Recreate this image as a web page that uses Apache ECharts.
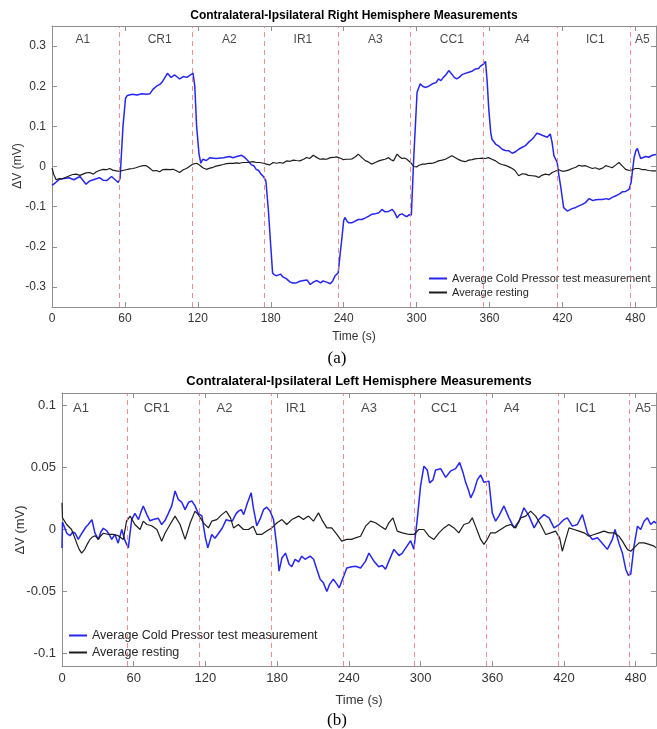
<!DOCTYPE html>
<html>
<head>
<meta charset="utf-8">
<script src="https://cdn.jsdelivr.net/npm/echarts@6/dist/echarts.min.js"></script>
<style>
html,body{margin:0;padding:0;background:#fff;}
#chart{width:657px;height:729px;}
</style>
</head>
<body>
<div id="chart"></div>
<script>
// ---------- DATA ----------
var seriesNames = ['Average Cold Pressor test measurement', 'Average resting'];
var phaseNames = ['A1','CR1','A2','IR1','A3','CC1','A4','IC1','A5'];
var phaseLabelTop = [25.4, 88.6, 146, 206.5, 266, 329, 387, 447, 485.8];
var phaseLabelBot = [15.9, 79.2, 135.9, 195.6, 256.8, 319.6, 376.2, 438.2, 486.2];
var phaseBoundsTop = [55, 115, 175, 235.5, 295, 355, 415.5, 476];
var phaseBoundsBot = [55, 115, 175, 235, 295, 355, 415, 475];
var xTicks = [0, 60, 120, 180, 240, 300, 360, 420, 480];
var yTicksTop = [-0.3, -0.2, -0.1, 0, 0.1, 0.2, 0.3];
var yTicksBot = [-0.1, -0.05, 0, 0.05, 0.1];

// Right hemisphere (a): [time s, dV mV]
var topCpt = [[0,-0.047],[3,-0.040],[6,-0.032],[10,-0.030],[14,-0.028],[18,-0.033],[23,-0.025],[28,-0.044],[31,-0.036],[34,-0.033],[39,-0.028],[42,-0.034],[45,-0.035],[49,-0.025],[52,-0.033],[54.5,-0.040],[56,-0.030],[58.4,0.10],[60.5,0.170],[62,0.177],[66,0.180],[70,0.178],[74,0.181],[78,0.180],[80.5,0.181],[83,0.192],[86,0.200],[89,0.205],[91,0.212],[93,0.222],[95,0.232],[98,0.222],[101,0.228],[103,0.223],[105,0.218],[108,0.224],[111,0.222],[114,0.228],[116,0.233],[117.5,0.20],[119,0.10],[121,0.03],[122.5,0.008],[124,0.018],[127,0.015],[130,0.022],[135,0.020],[141,0.022],[146,0.025],[149,0.022],[152,0.025],[156,0.028],[158,0.024],[160,0.018],[162,0.012],[164,0.004],[166,0.002],[168,-0.007],[170,-0.010],[172,-0.019],[174,-0.025],[176,-0.036],[178,-0.107],[180,-0.198],[181.5,-0.265],[183,-0.270],[185,-0.272],[188,-0.268],[190,-0.275],[193,-0.280],[196,-0.288],[198,-0.290],[201,-0.290],[204,-0.286],[207,-0.284],[210,-0.283],[211,-0.280],[212.5,-0.294],[215,-0.288],[218,-0.284],[221,-0.290],[223,-0.285],[226,-0.288],[229,-0.292],[231,-0.285],[233,-0.272],[235.5,-0.265],[237,-0.22],[238.5,-0.18],[240,-0.135],[241,-0.127],[242.5,-0.135],[244,-0.14],[247,-0.14],[252,-0.132],[255,-0.132],[258,-0.128],[261,-0.123],[263,-0.119],[266,-0.118],[269,-0.115],[271.5,-0.107],[274,-0.113],[277,-0.112],[280,-0.107],[282,-0.115],[284,-0.128],[286,-0.120],[288,-0.118],[290,-0.122],[292,-0.125],[294,-0.120],[295.7,-0.121],[297.6,0.018],[300.4,0.185],[303,0.206],[305,0.200],[307,0.197],[310,0.200],[313,0.206],[316,0.209],[318,0.218],[320,0.214],[322,0.222],[324,0.228],[326.5,0.239],[329,0.230],[331,0.222],[333,0.218],[335,0.222],[337.5,0.229],[340,0.232],[343,0.235],[346,0.238],[348.5,0.243],[351,0.244],[352.6,0.250],[355,0.255],[356.7,0.262],[358,0.215],[359.4,0.143],[361,0.085],[362,0.068],[365,0.056],[368,0.050],[370.4,0.043],[373,0.040],[376,0.039],[378.7,0.033],[381,0.036],[384,0.043],[387,0.048],[389.6,0.052],[392,0.060],[395,0.068],[397,0.075],[399,0.083],[401,0.081],[403.4,0.078],[405,0.075],[407.5,0.073],[410,0.081],[411.5,0.060],[413,0.027],[415.7,0.010],[417,-0.020],[418.5,-0.048],[421,-0.1025],[424,-0.111],[426,-0.108],[428,-0.105],[431,-0.102],[433.6,-0.098],[436,-0.095],[439,-0.090],[442,-0.080],[445,-0.085],[447.3,-0.083],[450,-0.082],[453,-0.082],[456,-0.080],[458.3,-0.082],[461,-0.077],[464,-0.073],[467,-0.068],[469.3,-0.063],[472,-0.062],[474.8,-0.057],[476.5,-0.040],[477.5,-0.015],[479,0.0225],[480.5,0.040],[481.7,0.045],[483,0.032],[484.4,0.020],[486,0.024],[488.5,0.025],[491,0.023],[494,0.028],[497,0.030]];
var topRest = [[0,-0.004],[1.5,-0.020],[3.4,-0.033],[6,-0.030],[9,-0.030],[12,-0.026],[14.4,-0.023],[17,-0.020],[20,-0.019],[23,-0.022],[25.4,-0.019],[28,-0.016],[31,-0.015],[34,-0.019],[36.5,-0.013],[39,-0.010],[42,-0.007],[45,-0.008],[47.4,-0.005],[50,-0.009],[51.5,-0.007],[53,-0.011],[55.6,-0.012],[58,-0.010],[61,-0.008],[64,-0.006],[66.6,-0.005],[69,-0.003],[72,0],[75,0.002],[77.6,0.002],[80,-0.003],[83,-0.011],[86,-0.010],[88.6,-0.013],[91,-0.008],[94,-0.007],[97,-0.008],[99.6,-0.007],[102,-0.010],[105,-0.015],[108,-0.008],[110.6,-0.005],[113,0],[116,0.006],[119,0.008],[121.6,0.003],[124,-0.003],[127,-0.007],[130,-0.004],[132.5,-0.002],[135,0.001],[138,0.003],[141,0.005],[143.5,0.007],[146,0.008],[149,0.008],[152,0.009],[154.5,0.008],[157,0.010],[160,0.010],[163,0.011],[165.5,0.012],[168,0.010],[171,0.010],[174,0.008],[176.5,0.006],[179,0.004],[182,0.010],[185,0.008],[187.5,0.010],[190,0.008],[193,0.014],[196,0.013],[198.5,0.016],[201,0.015],[204,0.014],[207,0.018],[209.5,0.0225],[212,0.020],[215,0.028],[217,0.024],[220.5,0.018],[223,0.019],[226,0.018],[229,0.022],[231.5,0.0225],[234,0.024],[235.6,0.027],[238,0.020],[239.7,0.017],[242,0.018],[245,0.018],[247,0.019],[250,0.025],[252,0.031],[255,0.022],[258,0.014],[260,0.012],[263,0.006],[266,0.010],[269,0.014],[271,0.016],[274,0.018],[277,0.022],[279,0.017],[281,0.014],[284,0.031],[286,0.024],[288,0.020],[290,0.021],[292,0.018],[295,0.010],[297.6,0],[300,-0.001],[302,0.003],[305,0.006],[307,0.006],[310,0.008],[313,0.008],[316,0.011],[318,0.014],[321,0.016],[323.7,0.018],[326,0.022],[329,0.027],[332,0.022],[334.7,0.017],[337,0.014],[340,0.012],[343,0.016],[345.7,0.017],[348,0.019],[351,0.020],[354,0.021],[356.7,0.020],[359,0.022],[362,0.018],[365,0.014],[367.7,0.008],[370,0.005],[373,0.003],[376,-0.001],[378.7,-0.005],[381,-0.010],[384,-0.023],[387,-0.018],[389.6,-0.019],[392,-0.022],[395,-0.023],[398,-0.024],[400.6,-0.0275],[403,-0.022],[406,-0.019],[409,-0.021],[411.6,-0.015],[414,-0.012],[417,-0.008],[420,-0.012],[422.6,-0.011],[425,-0.009],[428,-0.005],[431,-0.002],[433.6,0.003],[436,0.001],[439,0.002],[442,-0.002],[444.6,-0.005],[447,-0.003],[450,-0.007],[453,-0.004],[455.6,0.002],[458,0.000],[461,-0.003],[464,0.004],[466.5,0.010],[469,0.002],[472,-0.007],[475,-0.010],[477.5,-0.008],[480,-0.005],[483,-0.005],[486,-0.008],[488.5,-0.008],[491,-0.010],[494,-0.011],[497,-0.011]];

// Left hemisphere (b): [time s, dV mV]
var botCpt = [[0,-0.015],[0.4,0.006],[1.5,0.007],[4,-0.003],[6.7,-0.005],[9,-0.002],[11,-0.003],[13.6,-0.008],[16,-0.004],[18,-0.001],[20,0.002],[22,0.004],[25,0.008],[27.6,-0.003],[30.4,-0.008],[32.5,-0.002],[34.6,0.001],[37.4,-0.001],[40,-0.005],[41.6,-0.008],[44.3,-0.004],[47,-0.011],[50,0],[52.7,-0.009],[55.5,-0.0148],[58.3,0.008],[61,0.013],[64,0.008],[66,0.014],[68,0.019],[71,0.012],[73.6,0.007],[76.4,0.008],[80.6,0.009],[83.4,0.004],[86,0.007],[89,0.013],[91.8,0.019],[94.6,0.031],[97.4,0.024],[100.2,0.022],[103,0.016],[106,0.022],[108.6,0.023],[111.3,0.019],[114,0.013],[117,0.011],[120,-0.0067],[122,-0.0148],[125.3,-0.004],[128,-0.007],[131,-0.003],[134,0.001],[137.4,0.008],[140,0.007],[142.6,0.007],[145.8,0.013],[148,0.015],[150,0.016],[152,0.012],[155,0.021],[158.3,0.0296],[160,0.018],[163,0.003],[166,0.009],[168.6,0.016],[171.3,0.018],[174,0.015],[177,0.008],[180,-0.016],[181.6,-0.0336],[184,-0.023],[187,-0.019],[190,-0.028],[192.3,-0.030],[195,-0.024],[198,-0.026],[200.6,-0.0215],[203.4,-0.024],[207.6,-0.0215],[210.5,-0.024],[213.2,-0.032],[216,-0.040],[218.7,-0.043],[221.6,-0.050],[224,-0.044],[227,-0.040],[230,-0.044],[232,-0.047],[235.5,-0.038],[238.3,-0.031],[242.4,-0.030],[245.6,-0.0296],[249.8,-0.031],[254,-0.0255],[256.8,-0.019],[261,-0.0255],[265,-0.030],[268,-0.029],[270.7,-0.032],[273.5,-0.0255],[277.7,-0.016],[282,-0.021],[284.7,-0.019],[288.9,-0.013],[291.7,-0.009],[294.4,-0.016],[297.2,0.008],[300,0.035],[302.8,0.051],[305.6,0.048],[307.6,0.0376],[310.4,0.040],[312.6,0.048],[316.8,0.049],[321,0.042],[325,0.047],[329.3,0.049],[332.7,0.054],[335.5,0.046],[337.7,0.038],[340,0.032],[342,0.0255],[344.7,0.031],[347.5,0.040],[350.3,0.044],[353,0.038],[357.2,0.039],[360,0.0134],[362.8,0.0067],[365.6,0.011],[369.8,0.019],[374,0.0094],[378.2,0.0013],[382.4,0.0067],[386.5,0.0175],[390.7,0.011],[395,0.0013],[399,0.008],[403.3,0.012],[407.5,0.0094],[411.7,0.0013],[415.9,0.004],[420,0.008],[422.8,0.0094],[427,0.0027],[431.2,0.004],[435.4,0.012],[439.6,-0.0027],[443.8,-0.008],[448,-0.0067],[452,-0.011],[456.3,-0.016],[460.5,-0.008],[462.7,0],[466,-0.011],[468.9,-0.019],[471.7,-0.032],[473.9,-0.037],[475.9,-0.036],[478.6,-0.0134],[481.5,0.0027],[484.2,0],[487,0.0067],[489.8,0.0094],[492.6,0.004],[495.4,0.0067],[497,0.005]];
var botRest = [[0,0.0215],[0.4,0.0094],[3.9,0.004],[8,0],[10,-0.005],[12.3,-0.011],[14.4,-0.016],[16.4,-0.019],[19,-0.016],[21,-0.012],[23.4,-0.008],[25.5,-0.006],[27.6,-0.005],[30.4,-0.008],[32.5,-0.005],[34.6,-0.003],[38.8,-0.004],[43,-0.004],[47,-0.005],[51.3,-0.008],[54,0.0067],[57,0.0108],[61,0.004],[65.3,0],[68,0.0067],[71,0.004],[75,0.003],[79.4,0],[83.4,-0.0094],[86.2,-0.003],[90.4,0.004],[94.6,0.0108],[98.8,0.004],[103,-0.008],[107.3,0.0054],[111.3,0.0148],[114,0.012],[118.3,0.0054],[122.5,0.0013],[125.3,0.0067],[129.5,0.008],[133.7,0.012],[137.4,0.0148],[141,0.0094],[143.5,0.0013],[147.6,0.004],[151.8,0],[156,0],[160,0.0027],[163,-0.004],[167,-0.004],[171.3,-0.0013],[175.5,0.0013],[180,0.0054],[184,0.008],[188,0.004],[192.3,0.008],[198,0.0108],[202,0.008],[206.2,0.0108],[210.4,0.0067],[214.6,0.0134],[217.4,0.008],[221.6,0.0013],[225.7,0.0013],[230,-0.004],[234,-0.0094],[238.3,-0.008],[242.4,-0.008],[245.6,-0.0067],[249.8,-0.0054],[254,0.0027],[258.2,0.0067],[262.3,0.0054],[266.5,0.0027],[270.7,0],[273.5,0.0054],[276.9,0.0094],[280.5,-0.0013],[284.7,-0.0027],[290.3,-0.004],[294.4,-0.004],[298.6,0],[302.8,0],[307,-0.0054],[311.2,-0.008],[315.4,-0.0027],[319.6,0.0013],[323.7,0.004],[328,0.0013],[332,-0.0027],[336.3,0.004],[340.5,0.0054],[343.3,0.0094],[346,0.0027],[350.3,-0.008],[353,-0.012],[355.8,-0.008],[358.6,-0.0027],[362.8,-0.0027],[367,0],[371.2,0.0027],[375.4,0.004],[379.6,0.0013],[383.8,0.0094],[388,0.0108],[392.1,0.0148],[396.3,0.0108],[400.5,0.004],[404.7,-0.004],[408.9,-0.0027],[413,-0.0013],[416.4,-0.0067],[418.6,-0.0175],[421.4,-0.008],[424.2,0.0013],[428.4,0],[432.6,-0.0013],[436.8,-0.0027],[441,-0.0054],[445.2,-0.004],[449.3,-0.0027],[453.5,-0.0013],[457.7,-0.0027],[461.9,-0.0027],[466,-0.0054],[468.9,-0.0094],[473,-0.016],[475.9,-0.0175],[478.6,-0.0148],[482.8,-0.0108],[487,-0.0108],[491.2,-0.012],[495.4,-0.0134],[497,-0.0148]];

// ---------- CHART ----------
var FONT = "'Liberation Sans', Arial, Helvetica, sans-serif";
var AXIS_COLOR = '#8f8f8f';
var TEXT_COLOR = '#333333';
var BLUE = '#2626ee';
var BLACK = '#1c1c1c';

function xAxisDef(grid, pos, fs) {
  return {
    type: 'value', gridIndex: grid, position: pos, min: 0, max: 497,
    axisLine: {show: true, onZero: false, lineStyle: {color: AXIS_COLOR, width: 1}},
    axisTick: {show: true, inside: true, length: 5, customValues: xTicks, lineStyle: {color: AXIS_COLOR}},
    axisLabel: {show: pos === 'bottom', customValues: xTicks, fontSize: fs, color: TEXT_COLOR, fontFamily: FONT, margin: 6},
    splitLine: {show: false}
  };
}
function yAxisDef(grid, pos, min, max, ticks, fs) {
  return {
    type: 'value', gridIndex: grid, position: pos, min: min, max: max,
    axisLine: {show: true, onZero: false, lineStyle: {color: AXIS_COLOR, width: 1}},
    axisTick: {show: true, inside: true, length: 5, customValues: ticks, lineStyle: {color: AXIS_COLOR}},
    axisLabel: {show: pos === 'left', customValues: ticks, fontSize: fs, color: TEXT_COLOR, fontFamily: FONT, margin: 6},
    splitLine: {show: false}
  };
}
function phaseLineSeries(xi, yi, bounds) {
  return {
    type: 'line', xAxisIndex: xi, yAxisIndex: yi, data: [], silent: true,
    markLine: {
      silent: true, symbol: ['none', 'none'], label: {show: false}, animation: false,
      lineStyle: {color: '#e57373', type: [5, 4], width: 1, opacity: 0.8},
      data: bounds.map(function (t) { return {xAxis: t}; })
    }
  };
}
function phaseLabelSeries(xi, yi, xs, yLevel, fs) {
  return {
    type: 'scatter', xAxisIndex: xi, yAxisIndex: yi, symbolSize: 0, silent: true,
    data: xs.map(function (t, i) { return {value: [t, yLevel], name: phaseNames[i]}; }),
    label: {show: true, position: 'inside', formatter: '{b}', fontSize: fs, color: '#1a1a1a', fontFamily: FONT}
  };
}

var chart = echarts.init(document.getElementById('chart'), null, {renderer: 'canvas'});
var option = {
  animation: false,
  backgroundColor: '#ffffff',
  grid: [
    {left: 52, top: 26, width: 604, height: 281},
    {left: 62, top: 393, width: 594, height: 273}
  ],
  xAxis: [
    xAxisDef(0, 'bottom', 12), xAxisDef(0, 'top', 12),
    xAxisDef(1, 'bottom', 13), xAxisDef(1, 'top', 13)
  ],
  yAxis: [
    yAxisDef(0, 'left', -0.35, 0.35, yTicksTop, 12), yAxisDef(0, 'right', -0.35, 0.35, yTicksTop, 12),
    yAxisDef(1, 'left', -0.11, 0.11, yTicksBot, 13), yAxisDef(1, 'right', -0.11, 0.11, yTicksBot, 13)
  ],
  legend: [
    {orient: 'vertical', left: 429, top: 273, itemWidth: 18, itemHeight: 2, itemGap: 3, padding: 0,
     icon: 'rect', data: seriesNames, selectedMode: false,
     textStyle: {fontSize: 11, color: '#262626', fontFamily: FONT}},
    {orient: 'vertical', left: 69, top: 629, itemWidth: 18, itemHeight: 2, itemGap: 4, padding: 0,
     icon: 'rect', data: seriesNames, selectedMode: false,
     textStyle: {fontSize: 12.5, color: '#262626', fontFamily: FONT}}
  ],
  series: [
    phaseLineSeries(0, 0, phaseBoundsTop),
    phaseLineSeries(2, 2, phaseBoundsBot),
    phaseLabelSeries(0, 0, phaseLabelTop, 0.316, 12),
    phaseLabelSeries(2, 2, phaseLabelBot, 0.0975, 13),
    {name: seriesNames[0], type: 'line', xAxisIndex: 0, yAxisIndex: 0, data: topCpt, showSymbol: false,
     lineStyle: {color: BLUE, width: 1.5}, itemStyle: {color: BLUE}},
    {name: seriesNames[1], type: 'line', xAxisIndex: 0, yAxisIndex: 0, data: topRest, showSymbol: false,
     lineStyle: {color: BLACK, width: 1.2}, itemStyle: {color: BLACK}},
    {name: seriesNames[0], type: 'line', xAxisIndex: 2, yAxisIndex: 2, data: botCpt, showSymbol: false,
     lineStyle: {color: BLUE, width: 1.5}, itemStyle: {color: BLUE}},
    {name: seriesNames[1], type: 'line', xAxisIndex: 2, yAxisIndex: 2, data: botRest, showSymbol: false,
     lineStyle: {color: BLACK, width: 1.2}, itemStyle: {color: BLACK}}
  ],
  graphic: [
    {type: 'text', x: 354, y: 16, style: {text: 'Contralateral-Ipsilateral Right Hemisphere Measurements', font: 'bold 12px ' + FONT, fill: '#000', align: 'center', verticalAlign: 'middle'}},
    {type: 'text', x: 359, y: 381, style: {text: 'Contralateral-Ipsilateral Left Hemisphere Measurements', font: 'bold 13px ' + FONT, fill: '#000', align: 'center', verticalAlign: 'middle'}},
    {type: 'text', x: 354, y: 337, style: {text: 'Time (s)', font: '12px ' + FONT, fill: TEXT_COLOR, align: 'center', verticalAlign: 'middle'}},
    {type: 'text', x: 359, y: 700, style: {text: 'Time (s)', font: '13px ' + FONT, fill: TEXT_COLOR, align: 'center', verticalAlign: 'middle'}},
    {type: 'text', x: 18, y: 166, rotation: Math.PI / 2, style: {text: 'ΔV (mV)', font: '12px ' + FONT, fill: TEXT_COLOR, align: 'center', verticalAlign: 'middle'}},
    {type: 'text', x: 20, y: 530, rotation: Math.PI / 2, style: {text: 'ΔV (mV)', font: '13px ' + FONT, fill: TEXT_COLOR, align: 'center', verticalAlign: 'middle'}},
    {type: 'text', x: 337, y: 359, style: {text: '(a)', font: '17px "Liberation Serif", "Times New Roman", serif', fill: '#000', align: 'center', verticalAlign: 'middle'}},
    {type: 'text', x: 337, y: 721, style: {text: '(b)', font: '17px "Liberation Serif", "Times New Roman", serif', fill: '#000', align: 'center', verticalAlign: 'middle'}}
  ]
};
chart.setOption(option);
</script>
</body>
</html>
